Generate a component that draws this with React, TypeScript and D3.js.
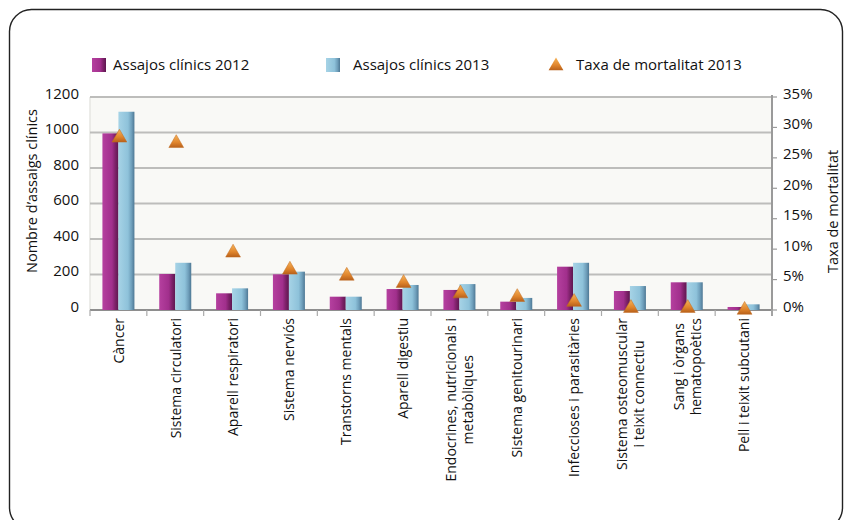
import React, { useEffect, useRef } from "react";
import * as d3 from "d3";

const categories: string[][] = [
  ["Càncer"],
  ["Sistema circulatori"],
  ["Aparell respiratori"],
  ["Sistema nerviós"],
  ["Transtorns mentals"],
  ["Aparell digestiu"],
  ["Endocrines, nutricionals i", "metabòliques"],
  ["Sistema genitourinari"],
  ["Infeccioses i parasitàries"],
  ["Sistema osteomuscular", "i teixit connectiu"],
  ["Sang i òrgans", "hematopoètics"],
  ["Pell i teixit subcutani"],
];
const trials2012 = [995, 203, 94, 201, 75, 118, 113, 47, 244, 107, 156, 17];
const trials2013 = [1117, 266, 122, 216, 75, 141, 146, 68, 266, 135, 156, 32];
const mortality2013 = [28.3, 27.4, 9.4, 6.6, 5.6, 4.4, 2.7, 2.1, 1.3, 0.3, 0.3, 0.0];
const leftTicks = [0, 200, 400, 600, 800, 1000, 1200];
const rightTicks = [0, 5, 10, 15, 20, 25, 30, 35];
const legendLabels = ["Assajos clínics 2012", "Assajos clínics 2013", "Taxa de mortalitat 2013"];
const leftTitle = "Nombre d’assaigs clínics";
const rightTitle = "Taxa de mortalitat";

const FONT = "'Open Sans', 'Noto Sans', sans-serif";

export default function App() {
  const ref = useRef<SVGSVGElement | null>(null);

  useEffect(() => {
    const svg = d3.select(ref.current);
    svg.selectAll("*").remove();

    const L = 90, R = 772, T = 97, B = 310;
    const x = d3.scaleBand<number>().domain(d3.range(categories.length)).range([L, R]);
    const yL = d3.scaleLinear().domain([0, 1200]).range([B, T]);
    const yR = d3.scaleLinear().domain([0, 35]).range([B, T]);

    const defs = svg.append("defs");
    const g1 = defs.append("linearGradient").attr("id", "g2012").attr("x1", 0).attr("x2", 1).attr("y1", 0).attr("y2", 0);
    g1.append("stop").attr("offset", "0").attr("stop-color", "#b5409f");
    g1.append("stop").attr("offset", "0.6").attr("stop-color", "#a12f8c");
    g1.append("stop").attr("offset", "0.8").attr("stop-color", "#7d2169");
    g1.append("stop").attr("offset", "1").attr("stop-color", "#5e1650");
    const g2 = defs.append("linearGradient").attr("id", "g2013").attr("x1", 0).attr("x2", 1).attr("y1", 0).attr("y2", 0);
    g2.append("stop").attr("offset", "0").attr("stop-color", "#a6d3e6");
    g2.append("stop").attr("offset", "0.6").attr("stop-color", "#8ec2da");
    g2.append("stop").attr("offset", "0.82").attr("stop-color", "#6f9fbb");
    g2.append("stop").attr("offset", "1").attr("stop-color", "#4e7894");
    const gt = defs.append("linearGradient").attr("id", "gtri").attr("x1", 0).attr("x2", 0).attr("y1", 0).attr("y2", 1);
    gt.append("stop").attr("offset", "0").attr("stop-color", "#f6b45a");
    gt.append("stop").attr("offset", "0.6").attr("stop-color", "#e0852c");
    gt.append("stop").attr("offset", "1").attr("stop-color", "#b8601a");
    const gb = defs.append("filter").attr("id", "soft").attr("x", "-20%").attr("y", "-20%").attr("width", "140%").attr("height", "140%");
    gb.append("feGaussianBlur").attr("stdDeviation", 1.2);

    // frame
    svg.append("rect").attr("x", 9.5).attr("y", 9.5).attr("width", 833).attr("height", 520)
      .attr("rx", 22).attr("fill", "none").attr("stroke", "#222").attr("stroke-width", 1.4);

    // plot background
    svg.append("rect").attr("x", L).attr("y", T).attr("width", R - L).attr("height", B - T).attr("fill", "#f9f9f6");
    svg.append("line").attr("x1", L).attr("x2", L).attr("y1", T).attr("y2", B).attr("stroke", "#e6e6e2").attr("stroke-width", 1.5);

    // gridlines
    const grid = svg.append("g");
    leftTicks.forEach((t) => {
      const yy = yL(t);
      grid.append("line").attr("x1", L).attr("x2", R).attr("y1", yy + 2).attr("y2", yy + 2)
        .attr("stroke", "#e0e0de").attr("stroke-width", 2.5).attr("filter", "url(#soft)");
      grid.append("line").attr("x1", L).attr("x2", R).attr("y1", yy).attr("y2", yy)
        .attr("stroke", t === 0 ? "#8e8e8e" : "#bdbdbb").attr("stroke-width", t === 0 ? 2 : 2);
    });

    // right axis line
    svg.append("line").attr("x1", R).attr("x2", R).attr("y1", T - 2).attr("y2", B + 6)
      .attr("stroke", "#9a9a9a").attr("stroke-width", 2);
    rightTicks.forEach((t) => {
      svg.append("line").attr("x1", R).attr("x2", R + 5).attr("y1", yR(t)).attr("y2", yR(t))
        .attr("stroke", "#9a9a9a").attr("stroke-width", 1.2);
    });
    // x ticks between categories
    d3.range(categories.length + 1).forEach((i) => {
      const xx = i < categories.length ? x(i)! : R;
      svg.append("line").attr("x1", xx).attr("x2", xx).attr("y1", B).attr("y2", B + 6)
        .attr("stroke", "#aaa").attr("stroke-width", 1.2);
    });

    // bars
    const bw = 16;
    const cx = (i: number) => x(i)! + x.bandwidth() / 2;
    svg.append("g").selectAll("rect").data(trials2012).join("rect")
      .attr("x", (_, i) => cx(i) - bw).attr("y", (d) => yL(d)).attr("width", bw)
      .attr("height", (d) => B - yL(d)).attr("fill", "url(#g2012)");
    svg.append("g").selectAll("rect").data(trials2013).join("rect")
      .attr("x", (_, i) => cx(i)).attr("y", (d) => yL(d)).attr("width", bw)
      .attr("height", (d) => B - yL(d)).attr("fill", "url(#g2013)");

    // triangles
    const tri = d3.symbol().type(d3.symbolTriangle).size(95);
    svg.append("g").selectAll("path").data(mortality2013).join("path")
      .attr("d", tri as any)
      .attr("transform", (d, i) => `translate(${cx(i) + 1},${yR(d)})`)
      .attr("fill", "url(#gtri)").attr("stroke", "#c06a20").attr("stroke-width", 0.5);

    // left tick labels
    svg.append("g").selectAll("text").data(leftTicks).join("text")
      .attr("x", 79).attr("y", (d) => yL(d)).attr("dy", "0.1em")
      .attr("text-anchor", "end").attr("font-family", FONT).attr("font-size", 15).attr("fill", "#111")
      .text((d) => String(d));
    // right tick labels
    svg.append("g").selectAll("text").data(rightTicks).join("text")
      .attr("x", 783).attr("y", (d) => yR(d)).attr("dy", "0.1em")
      .attr("text-anchor", "start").attr("font-family", FONT).attr("font-size", 15).attr("fill", "#111")
      .text((d) => d + "%");

    // axis titles
    svg.append("text").attr("transform", "translate(37,273) rotate(-90)")
      .attr("font-family", FONT).attr("font-size", 14.5).attr("fill", "#111").text(leftTitle);
    svg.append("text").attr("transform", "translate(838,273) rotate(-90)")
      .attr("font-family", FONT).attr("font-size", 14.5).attr("fill", "#111").text(rightTitle);

    // category labels
    const lineH = 17;
    categories.forEach((lines, i) => {
      const g = svg.append("g").attr("transform", `translate(${cx(i)},318) rotate(-90)`);
      const texts = lines.map((s, k) =>
        g.append("text").attr("font-family", FONT).attr("font-size", 14).attr("fill", "#111")
          .attr("dominant-baseline", "central")
          .attr("y", (k - (lines.length - 1) / 2) * lineH).text(s)
      );
      const widths = texts.map((t) => (t.node() as SVGTextElement).getComputedTextLength());
      const maxW = Math.max(...widths);
      texts.forEach((t) => t.attr("text-anchor", "middle").attr("x", -maxW / 2));
    });

    // legend
    const legY = 65;
    const sq = svg.append("g");
    sq.append("rect").attr("x", 92).attr("y", legY - 7).attr("width", 14).attr("height", 14).attr("fill", "url(#g2012)");
    sq.append("rect").attr("x", 326).attr("y", legY - 7).attr("width", 14).attr("height", 14).attr("fill", "url(#g2013)");
    sq.append("path").attr("d", tri as any).attr("transform", `translate(556,${legY + 1})`).attr("fill", "url(#gtri)");
    const legX = [113, 353, 576];
    legendLabels.forEach((s, i) => {
      svg.append("text").attr("x", legX[i]).attr("y", legY).attr("dy", "0.35em")
        .attr("font-family", FONT).attr("font-size", 15).attr("fill", "#111").text(s);
    });
  }, []);

  return (
    <svg ref={ref} width={845} height={520} style={{ position: "absolute", left: 0, top: 0, background: "#fff" }} />
  );
}
